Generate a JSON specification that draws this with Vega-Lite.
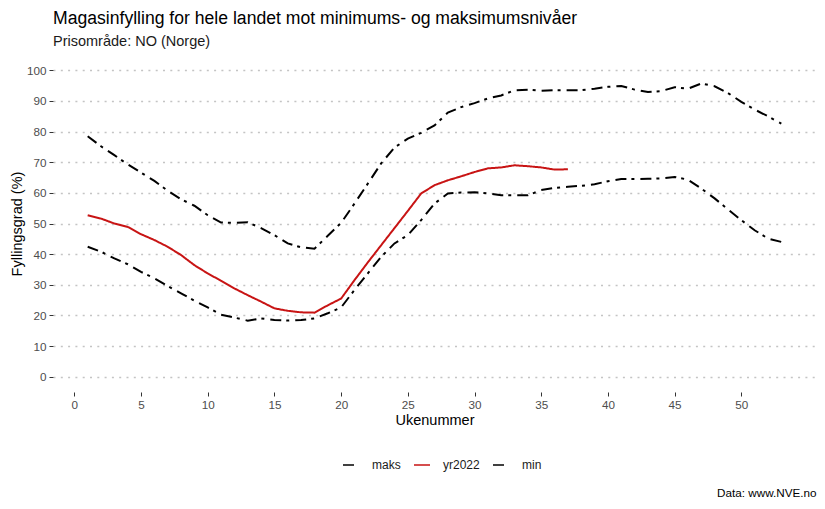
{
  "$schema": "https://vega.github.io/schema/vega-lite/v6.json",
  "width": 763,
  "height": 337,
  "autosize": {"type": "none"},
  "padding": {"left": 53, "top": 55, "right": 9, "bottom": 117},
  "background": "white",
  "title": {
    "text": "Magasinfylling for hele landet mot minimums- og maksimumsnivåer",
    "subtitle": "Prisområde: NO (Norge)",
    "anchor": "start",
    "frame": "group",
    "font": "Liberation Sans",
    "fontSize": 17.6,
    "fontWeight": "normal",
    "color": "#000000",
    "subtitleFont": "Liberation Sans",
    "subtitleFontSize": 14.5,
    "subtitleColor": "#1a1a1a",
    "subtitlePadding": 7,
    "offset": 7
  },
  "config": {
    "view": {"stroke": null},
    "font": "Liberation Sans"
  },
  "data": {
    "values": [
      {"uke": 1, "serie": "maks", "verdi": 78.5},
      {"uke": 2, "serie": "maks", "verdi": 75.2},
      {"uke": 3, "serie": "maks", "verdi": 72.3},
      {"uke": 4, "serie": "maks", "verdi": 69.3},
      {"uke": 5, "serie": "maks", "verdi": 66.6},
      {"uke": 6, "serie": "maks", "verdi": 63.9},
      {"uke": 7, "serie": "maks", "verdi": 60.7},
      {"uke": 8, "serie": "maks", "verdi": 57.9},
      {"uke": 9, "serie": "maks", "verdi": 55.8},
      {"uke": 10, "serie": "maks", "verdi": 52.7},
      {"uke": 11, "serie": "maks", "verdi": 50.3},
      {"uke": 12, "serie": "maks", "verdi": 50.2},
      {"uke": 13, "serie": "maks", "verdi": 50.4},
      {"uke": 14, "serie": "maks", "verdi": 48.5},
      {"uke": 15, "serie": "maks", "verdi": 46.2},
      {"uke": 16, "serie": "maks", "verdi": 43.5},
      {"uke": 17, "serie": "maks", "verdi": 42.2},
      {"uke": 18, "serie": "maks", "verdi": 41.8},
      {"uke": 19, "serie": "maks", "verdi": 46.0},
      {"uke": 20, "serie": "maks", "verdi": 50.2},
      {"uke": 21, "serie": "maks", "verdi": 56.5},
      {"uke": 22, "serie": "maks", "verdi": 63.0},
      {"uke": 23, "serie": "maks", "verdi": 69.6},
      {"uke": 24, "serie": "maks", "verdi": 74.8},
      {"uke": 25, "serie": "maks", "verdi": 77.7},
      {"uke": 26, "serie": "maks", "verdi": 79.6},
      {"uke": 27, "serie": "maks", "verdi": 82.0},
      {"uke": 28, "serie": "maks", "verdi": 86.2},
      {"uke": 29, "serie": "maks", "verdi": 88.0},
      {"uke": 30, "serie": "maks", "verdi": 89.3},
      {"uke": 31, "serie": "maks", "verdi": 90.8},
      {"uke": 32, "serie": "maks", "verdi": 91.8},
      {"uke": 33, "serie": "maks", "verdi": 93.5},
      {"uke": 34, "serie": "maks", "verdi": 93.7},
      {"uke": 35, "serie": "maks", "verdi": 93.3},
      {"uke": 36, "serie": "maks", "verdi": 93.5},
      {"uke": 37, "serie": "maks", "verdi": 93.5},
      {"uke": 38, "serie": "maks", "verdi": 93.5},
      {"uke": 39, "serie": "maks", "verdi": 94.0},
      {"uke": 40, "serie": "maks", "verdi": 94.6},
      {"uke": 41, "serie": "maks", "verdi": 94.9},
      {"uke": 42, "serie": "maks", "verdi": 93.7},
      {"uke": 43, "serie": "maks", "verdi": 92.9},
      {"uke": 44, "serie": "maks", "verdi": 93.2},
      {"uke": 45, "serie": "maks", "verdi": 94.5},
      {"uke": 46, "serie": "maks", "verdi": 94.0},
      {"uke": 47, "serie": "maks", "verdi": 95.7},
      {"uke": 48, "serie": "maks", "verdi": 94.8},
      {"uke": 49, "serie": "maks", "verdi": 92.6},
      {"uke": 50, "serie": "maks", "verdi": 89.7},
      {"uke": 51, "serie": "maks", "verdi": 87.2},
      {"uke": 52, "serie": "maks", "verdi": 85.0},
      {"uke": 53, "serie": "maks", "verdi": 82.6},
      {"uke": 1, "serie": "yr2022", "verdi": 52.7},
      {"uke": 2, "serie": "yr2022", "verdi": 51.6},
      {"uke": 3, "serie": "yr2022", "verdi": 50.0},
      {"uke": 4, "serie": "yr2022", "verdi": 48.9},
      {"uke": 5, "serie": "yr2022", "verdi": 46.5},
      {"uke": 6, "serie": "yr2022", "verdi": 44.6},
      {"uke": 7, "serie": "yr2022", "verdi": 42.4},
      {"uke": 8, "serie": "yr2022", "verdi": 39.7},
      {"uke": 9, "serie": "yr2022", "verdi": 36.4},
      {"uke": 10, "serie": "yr2022", "verdi": 33.7},
      {"uke": 11, "serie": "yr2022", "verdi": 31.3},
      {"uke": 12, "serie": "yr2022", "verdi": 28.8},
      {"uke": 13, "serie": "yr2022", "verdi": 26.6},
      {"uke": 14, "serie": "yr2022", "verdi": 24.5},
      {"uke": 15, "serie": "yr2022", "verdi": 22.3},
      {"uke": 16, "serie": "yr2022", "verdi": 21.5},
      {"uke": 17, "serie": "yr2022", "verdi": 21.0},
      {"uke": 18, "serie": "yr2022", "verdi": 20.9},
      {"uke": 19, "serie": "yr2022", "verdi": 23.3},
      {"uke": 20, "serie": "yr2022", "verdi": 25.5},
      {"uke": 21, "serie": "yr2022", "verdi": 31.5},
      {"uke": 22, "serie": "yr2022", "verdi": 37.3},
      {"uke": 23, "serie": "yr2022", "verdi": 42.9},
      {"uke": 24, "serie": "yr2022", "verdi": 48.5},
      {"uke": 25, "serie": "yr2022", "verdi": 54.1},
      {"uke": 26, "serie": "yr2022", "verdi": 59.8},
      {"uke": 27, "serie": "yr2022", "verdi": 62.5},
      {"uke": 28, "serie": "yr2022", "verdi": 64.1},
      {"uke": 29, "serie": "yr2022", "verdi": 65.4},
      {"uke": 30, "serie": "yr2022", "verdi": 66.8},
      {"uke": 31, "serie": "yr2022", "verdi": 68.0},
      {"uke": 32, "serie": "yr2022", "verdi": 68.3},
      {"uke": 33, "serie": "yr2022", "verdi": 69.0},
      {"uke": 34, "serie": "yr2022", "verdi": 68.7},
      {"uke": 35, "serie": "yr2022", "verdi": 68.3},
      {"uke": 36, "serie": "yr2022", "verdi": 67.6},
      {"uke": 37, "serie": "yr2022", "verdi": 67.7},
      {"uke": 1, "serie": "min", "verdi": 42.4},
      {"uke": 2, "serie": "min", "verdi": 40.8},
      {"uke": 3, "serie": "min", "verdi": 38.6},
      {"uke": 4, "serie": "min", "verdi": 36.7},
      {"uke": 5, "serie": "min", "verdi": 34.2},
      {"uke": 6, "serie": "min", "verdi": 32.1},
      {"uke": 7, "serie": "min", "verdi": 29.6},
      {"uke": 8, "serie": "min", "verdi": 27.2},
      {"uke": 9, "serie": "min", "verdi": 24.8},
      {"uke": 10, "serie": "min", "verdi": 22.6},
      {"uke": 11, "serie": "min", "verdi": 20.2},
      {"uke": 12, "serie": "min", "verdi": 19.3},
      {"uke": 13, "serie": "min", "verdi": 18.3},
      {"uke": 14, "serie": "min", "verdi": 19.0},
      {"uke": 15, "serie": "min", "verdi": 18.5},
      {"uke": 16, "serie": "min", "verdi": 18.3},
      {"uke": 17, "serie": "min", "verdi": 18.5},
      {"uke": 18, "serie": "min", "verdi": 19.0},
      {"uke": 19, "serie": "min", "verdi": 20.7},
      {"uke": 20, "serie": "min", "verdi": 22.6},
      {"uke": 21, "serie": "min", "verdi": 28.3},
      {"uke": 22, "serie": "min", "verdi": 33.7},
      {"uke": 23, "serie": "min", "verdi": 39.1},
      {"uke": 24, "serie": "min", "verdi": 43.5},
      {"uke": 25, "serie": "min", "verdi": 46.2},
      {"uke": 26, "serie": "min", "verdi": 51.1},
      {"uke": 27, "serie": "min", "verdi": 56.5},
      {"uke": 28, "serie": "min", "verdi": 59.8},
      {"uke": 29, "serie": "min", "verdi": 60.1},
      {"uke": 30, "serie": "min", "verdi": 60.2},
      {"uke": 31, "serie": "min", "verdi": 59.8},
      {"uke": 32, "serie": "min", "verdi": 59.2},
      {"uke": 33, "serie": "min", "verdi": 59.2},
      {"uke": 34, "serie": "min", "verdi": 59.2},
      {"uke": 35, "serie": "min", "verdi": 60.9},
      {"uke": 36, "serie": "min", "verdi": 61.6},
      {"uke": 37, "serie": "min", "verdi": 62.0},
      {"uke": 38, "serie": "min", "verdi": 62.3},
      {"uke": 39, "serie": "min", "verdi": 62.8},
      {"uke": 40, "serie": "min", "verdi": 63.8},
      {"uke": 41, "serie": "min", "verdi": 64.5},
      {"uke": 42, "serie": "min", "verdi": 64.5},
      {"uke": 43, "serie": "min", "verdi": 64.6},
      {"uke": 44, "serie": "min", "verdi": 64.7},
      {"uke": 45, "serie": "min", "verdi": 65.2},
      {"uke": 46, "serie": "min", "verdi": 64.3},
      {"uke": 47, "serie": "min", "verdi": 61.4},
      {"uke": 48, "serie": "min", "verdi": 58.2},
      {"uke": 49, "serie": "min", "verdi": 54.6},
      {"uke": 50, "serie": "min", "verdi": 51.1},
      {"uke": 51, "serie": "min", "verdi": 47.8},
      {"uke": 52, "serie": "min", "verdi": 45.1},
      {"uke": 53, "serie": "min", "verdi": 44.0}
    ]
  },
  "encoding": {
    "y": {
      "field": "verdi",
      "type": "quantitative",
      "scale": {"domain": [-5, 105], "nice": false, "zero": false},
      "axis": {
        "title": "Fyllingsgrad (%)",
        "values": [0, 10, 20, 30, 40, 50, 60, 70, 80, 90, 100],
        "grid": true,
        "gridColor": "#c4c4c4",
        "gridDash": [2, 5.3],
        "gridWidth": 1.5,
        "domain": false,
        "tickColor": "#333333",
        "tickSize": 4,
        "labelPadding": 3,
        "labelColor": "#4d4d4d",
        "labelFontSize": 11.7,
        "labelFont": "Liberation Sans",
        "titleFont": "Liberation Sans",
        "titleFontSize": 14.5,
        "titleFontWeight": "normal",
        "titleColor": "#000000",
        "titlePadding": 2
      }
    },
    "color": {
      "field": "serie",
      "type": "nominal",
      "scale": {"domain": ["maks", "yr2022", "min"], "range": ["#000000", "#c81414", "#000000"]},
      "legend": {
        "title": null,
        "orient": "none",
        "direction": "horizontal",
        "legendX": 289,
        "legendY": 401,
        "symbolType": "stroke",
        "symbolSize": 256,
        "symbolStrokeWidth": 1.5,
        "labelFontSize": 12,
        "labelFont": "Liberation Sans",
        "labelColor": "#1a1a1a",
        "labelOffset": 12,
        "columnPadding": 10
      }
    },
    "strokeDash": {
      "field": "serie",
      "type": "nominal",
      "scale": {"domain": ["maks", "yr2022", "min"], "range": [[11, 5, 3, 6], [1, 0], [11, 5, 3, 6]]},
      "legend": {
        "title": null,
        "orient": "none",
        "direction": "horizontal",
        "legendX": 289,
        "legendY": 401,
        "symbolType": "stroke",
        "symbolSize": 256,
        "symbolStrokeWidth": 1.5,
        "labelFontSize": 12,
        "labelFont": "Liberation Sans",
        "labelColor": "#1a1a1a",
        "labelOffset": 12,
        "columnPadding": 10
      }
    }
  },
  "layer": [
    {
      "transform": [{"filter": "datum.serie !== 'yr2022'"}],
      "mark": {"type": "line", "strokeWidth": 2},
      "encoding": {
        "x": {
          "field": "uke",
          "type": "quantitative",
          "scale": {"domain": [-1.6, 55.6], "nice": false, "zero": false},
          "axis": {
            "title": "Ukenummer",
            "values": [0, 5, 10, 15, 20, 25, 30, 35, 40, 45, 50],
            "grid": false,
            "domain": false,
            "tickColor": "#333333",
            "tickSize": 4,
            "labelPadding": 3,
            "labelColor": "#4d4d4d",
            "labelFontSize": 11.7,
            "labelFont": "Liberation Sans",
            "titleFont": "Liberation Sans",
            "titleFontSize": 14.5,
            "titleFontWeight": "normal",
            "titleColor": "#000000",
            "titlePadding": 3
          }
        },
        "detail": {"field": "serie"}
      }
    },
    {
      "transform": [{"filter": "datum.serie === 'yr2022'"}],
      "mark": {"type": "line", "strokeWidth": 2},
      "encoding": {
        "x": {
          "field": "uke",
          "type": "quantitative",
          "scale": {"domain": [-1.6, 55.6], "nice": false, "zero": false},
          "axis": {
            "orient": "bottom",
            "offset": 95,
            "title": "Data: www.NVE.no",
            "titleAnchor": "end",
            "titleAlign": "right",
            "labels": false,
            "ticks": false,
            "domain": false,
            "grid": false,
            "titleFont": "Liberation Sans",
            "titleFontSize": 11.7,
            "titleFontWeight": "normal",
            "titleColor": "#000000",
            "titlePadding": 0
          }
        }
      }
    }
  ],
  "resolve": {"scale": {"x": "independent"}, "axis": {"x": "independent"}}
}
